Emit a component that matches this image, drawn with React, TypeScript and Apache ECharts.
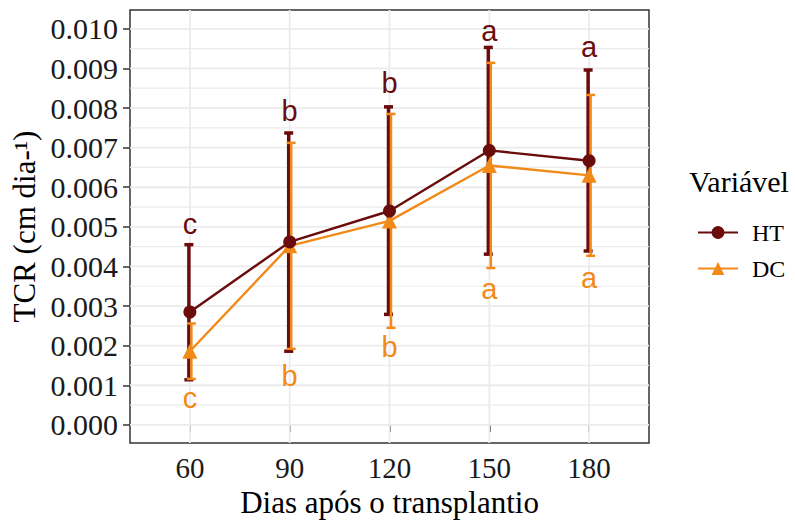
import React, { useEffect, useRef } from "react";
import * as echarts from "echarts";

const days = [60, 90, 120, 150, 180];
const htMean = [0.00285, 0.00462, 0.0054, 0.00693, 0.00667];
const htLow = [0.00114, 0.00186, 0.00279, 0.00431, 0.00439];
const htHigh = [0.00455, 0.00737, 0.00803, 0.00953, 0.00896];
const dcMean = [0.00186, 0.00452, 0.00515, 0.00655, 0.0063];
const dcLow = [0.00116, 0.00192, 0.00245, 0.00396, 0.00427];
const dcHigh = [0.00256, 0.00712, 0.00785, 0.00914, 0.00833];
const htLetters = ["c", "b", "b", "a", "a"];
const dcLetters = ["c", "b", "b", "a", "a"];
const htLetterY = [0.00506, 0.00792, 0.00864, 0.00995, 0.00953];
const dcLetterY = [0.00067, 0.00123, 0.00196, 0.00342, 0.00371];
const yTicks = [0, 0.001, 0.002, 0.003, 0.004, 0.005, 0.006, 0.007, 0.008, 0.009, 0.01];
const yMinor = [0.0005, 0.0015, 0.0025, 0.0035, 0.0045, 0.0055, 0.0065, 0.0075, 0.0085, 0.0095];
const legendTitle = "Vari\u00e1vel";

const HT_COLOR = "#6B0C0C";
const DC_COLOR = "#F28A1A";
const X_MIN = 42;
const X_MAX = 198;
const Y_MIN = -0.00046;
const Y_MAX = 0.010475;

export default function App() {
  const ref = useRef<HTMLDivElement>(null);
  useEffect(() => {
    if (!ref.current) return;
    const chart = echarts.init(ref.current, null, { renderer: "svg" });

    const gridData: number[][] = [
      ...yTicks.map((v) => [120, v, 1]),
      ...yMinor.map((v) => [120, v, 0]),
      ...days.map((d) => [d, 0.005, 2]),
    ];

    const errRender = (color: string, width: number, dx: number) => (params: any, api: any) => {
      const x = api.value(0);
      const lo = api.coord([x, api.value(1)]);
      const hi = api.coord([x, api.value(2)]);
      const cx = lo[0] + dx;
      const hw = 4.5;
      const style = { stroke: color, lineWidth: width };
      return {
        type: "group",
        children: [
          { type: "line", shape: { x1: cx, y1: lo[1], x2: cx, y2: hi[1] }, style },
          { type: "line", shape: { x1: cx - hw, y1: hi[1], x2: cx + hw, y2: hi[1] }, style },
          { type: "line", shape: { x1: cx - hw, y1: lo[1], x2: cx + hw, y2: lo[1] }, style },
        ],
      };
    };

    const letterRender = (color: string) => (params: any, api: any) => {
      const p = api.coord([api.value(0), api.value(1)]);
      return {
        type: "text",
        style: {
          text: String(api.value(2)),
          x: p[0],
          y: p[1],
          fill: color,
          fontFamily: "'Liberation Sans', Arial, sans-serif",
          fontSize: 29,
          align: "center",
          verticalAlign: "middle",
        },
      };
    };

    const serif = "'Liberation Serif', 'Times New Roman', serif";

    chart.setOption({
      animation: false,
      backgroundColor: "#ffffff",
      grid: {
        left: 130,
        top: 10,
        right: 146,
        bottom: 76,
        show: true,
        borderColor: "#333333",
        borderWidth: 1.5,
        backgroundColor: "#ffffff",
        z: 0,
      },
      xAxis: {
        type: "value",
        min: X_MIN,
        max: X_MAX,
        axisLine: { show: false },
        splitLine: { show: false },
        axisTick: {
          show: true,
          customValues: days,
          length: 7,
          lineStyle: { color: "#333333", width: 1.5 },
        },
        axisLabel: {
          customValues: days,
          color: "#1a1a1a",
          fontFamily: serif,
          fontSize: 29,
          margin: 10,
        },
        name: "Dias após o transplantio",
        nameLocation: "middle",
        nameGap: 35,
        nameTextStyle: { color: "#000000", fontFamily: serif, fontSize: 31 },
      },
      yAxis: {
        type: "value",
        min: Y_MIN,
        max: Y_MAX,
        axisLine: { show: false },
        splitLine: { show: false },
        axisTick: {
          show: true,
          customValues: yTicks,
          length: 7,
          lineStyle: { color: "#333333", width: 1.5 },
        },
        axisLabel: {
          customValues: yTicks,
          formatter: (v: number) => v.toFixed(3),
          color: "#1a1a1a",
          fontFamily: serif,
          fontSize: 30,
          margin: 12,
        },
        name: "TCR (cm dia-¹)",
        nameLocation: "middle",
        nameRotate: 90,
        nameGap: 88,
        nameTextStyle: { color: "#000000", fontFamily: serif, fontSize: 31 },
      },
      legend: [
        {
          data: ["HT", "DC"],
          orient: "vertical",
          left: 692,
          top: 215,
          itemWidth: 40,
          itemHeight: 16,
          itemGap: 11,
          textStyle: {
            fontFamily: serif,
            fontSize: 24,
            color: "#000000",
            lineHeight: 25,
            padding: [0, 0, 0, 9],
          },
        },
        {
          data: [{ name: legendTitle, icon: "none" }],
          selectedMode: false,
          orient: "vertical",
          left: 684,
          top: 164,
          itemWidth: 0,
          itemHeight: 0,
          padding: 0,
          textStyle: {
            fontFamily: serif,
            fontSize: 30,
            color: "#000000",
            lineHeight: 34,
          },
        },
      ],
      series: [
        {
          type: "line",
          name: legendTitle,
          data: [],
          symbol: "none",
          silent: true,
        },
        {
          type: "custom",
          name: "grid",
          silent: true,
          z: 1,
          data: gridData,
          encode: { x: 0, y: 1 },
          renderItem: (params: any, api: any) => {
            const kind = api.value(2);
            if (kind === 2) {
              const x = api.value(0);
              const a = api.coord([x, Y_MIN]);
              const b = api.coord([x, Y_MAX]);
              return {
                type: "line",
                shape: { x1: a[0], y1: a[1], x2: b[0], y2: b[1] },
                style: { stroke: "#EBEBEB", lineWidth: 1.8 },
              };
            }
            const v = api.value(1);
            const a = api.coord([X_MIN, v]);
            const b = api.coord([X_MAX, v]);
            return {
              type: "line",
              shape: { x1: a[0], y1: a[1], x2: b[0], y2: b[1] },
              style: { stroke: "#EBEBEB", lineWidth: kind === 1 ? 1.8 : 1.2 },
            };
          },
        },
        {
          type: "custom",
          name: "htErr",
          silent: true,
          z: 2,
          data: days.map((d, i) => [d, htLow[i], htHigh[i]]),
          encode: { x: 0, y: [1, 2] },
          renderItem: errRender(HT_COLOR, 3.5, -1),
        },
        {
          type: "custom",
          name: "dcErr",
          silent: true,
          z: 3,
          data: days.map((d, i) => [d, dcLow[i], dcHigh[i]]),
          encode: { x: 0, y: [1, 2] },
          renderItem: errRender(DC_COLOR, 2.5, 1.5),
        },
        {
          type: "line",
          name: "HT",
          z: 5,
          data: days.map((d, i) => [d, htMean[i]]),
          symbol: "circle",
          symbolSize: 13,
          color: HT_COLOR,
          itemStyle: { color: HT_COLOR },
          lineStyle: { color: HT_COLOR, width: 2.4 },
        },
        {
          type: "line",
          name: "DC",
          z: 4,
          data: days.map((d, i) => [d, dcMean[i]]),
          symbol: "triangle",
          symbolSize: 15,
          color: DC_COLOR,
          itemStyle: { color: DC_COLOR },
          lineStyle: { color: DC_COLOR, width: 2.4 },
        },
        {
          type: "custom",
          name: "htLetters",
          silent: true,
          z: 6,
          data: days.map((d, i) => [d, htLetterY[i], htLetters[i]]),
          dimensions: ["x", "y", { name: "t", type: "ordinal" }],
          encode: { x: 0, y: 1 },
          renderItem: letterRender(HT_COLOR),
        },
        {
          type: "custom",
          name: "dcLetters",
          silent: true,
          z: 6,
          data: days.map((d, i) => [d, dcLetterY[i], dcLetters[i]]),
          dimensions: ["x", "y", { name: "t", type: "ordinal" }],
          encode: { x: 0, y: 1 },
          renderItem: letterRender(DC_COLOR),
        },
      ],
    });
    return () => chart.dispose();
  }, []);
  return (
    <div
      ref={ref}
      style={{ position: "fixed", left: 0, top: 0, width: 795, height: 523, background: "#fff" }}
    />
  );
}
